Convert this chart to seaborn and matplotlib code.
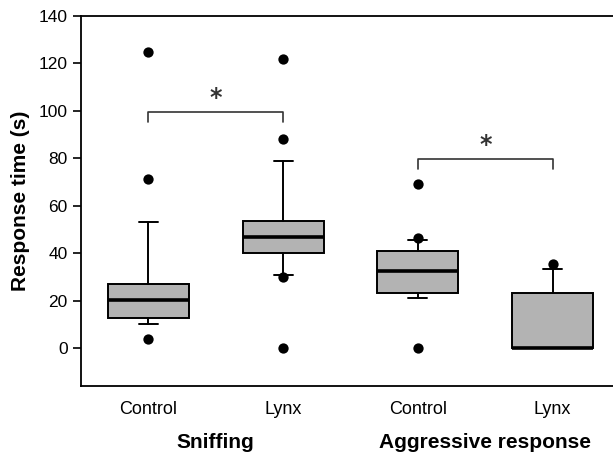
import numpy as np
import pandas as pd
import seaborn as sns
import matplotlib.pyplot as plt

sns.set_style("ticks")
plt.rcParams['font.family'] = ['Liberation Sans', 'DejaVu Sans']
plt.rcParams['text.color'] = 'black'
plt.rcParams['xtick.color'] = 'black'
plt.rcParams['ytick.color'] = 'black'
plt.rcParams['axes.labelcolor'] = 'black'

# box statistics (10th/90th percentile whiskers)
groups = ["Control", "Lynx", "Control", "Lynx"]
behaviours = ["Sniffing", "Aggressive response"]
med = [20.1, 46.8, 32.5, 0.0]
q1 = [12.8, 39.9, 23.3, 0.0]
q3 = [27.0, 53.6, 40.9, 23.3]
whislo = [10.3, 30.7, 21.0, 0.0]
whishi = [53.0, 79.0, 45.4, 33.5]
outliers = [[125.0, 71.1, 3.9],
            [122.0, 88.3, 30.1, 0.0],
            [69.2, 46.3, 0.0],
            [35.3]]
# significance brackets: (left box, right box, height)
brackets = [(0, 1, 99.5), (2, 3, 79.6)]

stats = []
for i in range(len(groups)):
    stats.append(dict(med=med[i], q1=q1[i], q3=q3[i],
                      whislo=whislo[i], whishi=whishi[i], fliers=[]))

fig = plt.figure(figsize=(6.13, 4.53), dpi=100)
ax = fig.add_axes([81/613, 1-386/453, (620-81)/613, 370/453])

ax.bxp(stats, positions=range(len(groups)), widths=0.6, patch_artist=True,
       showfliers=False,
       boxprops=dict(facecolor="#b3b3b3", edgecolor="black", linewidth=1.4),
       medianprops=dict(color="black", linewidth=2.6),
       whiskerprops=dict(color="black", linewidth=1.4),
       capprops=dict(color="black", linewidth=1.4),
       capwidths=0.14)

out = pd.DataFrame([(i, v) for i, vals in enumerate(outliers) for v in vals],
                   columns=["pos", "value"])
sns.scatterplot(data=out, x="pos", y="value", color="black", s=55,
                edgecolor="black", linewidth=0, zorder=5, ax=ax)

for a, b, h in brackets:
    ax.plot([a, a, b, b], [h - 4, h, h, h - 4], color="#333333", lw=1.2)
    ax.text((a + b) / 2, h + 1, "*", ha="center", va="bottom",
            fontsize=17, color="#333333", family="DejaVu Sans",
            fontweight="bold")

ax.set_xlim(-0.5, 3.5)
ax.set_ylim(-16, 140)
ax.set_yticks(np.arange(0, 141, 20))
ax.set_xticks(range(len(groups)))
ax.set_xticklabels(groups, fontsize=13)
ax.tick_params(axis="x", length=0, pad=11)
ax.tick_params(axis="y", labelsize=12.5, length=6, width=1.2, direction="out")
ax.set_xlabel("")
ax.set_ylabel("Response time (s)", fontsize=15, fontweight="bold", labelpad=6)
ax.spines["right"].set_visible(False)
for s in ["left", "top", "bottom"]:
    ax.spines[s].set_linewidth(1.3)
    ax.spines[s].set_color("black")

for k, name in enumerate(behaviours):
    ax.text(2 * k + 0.5, -0.154, name, transform=ax.get_xaxis_transform(),
            ha="center", va="center", fontsize=15, fontweight="bold")

fig.savefig("out.png", dpi=100)
